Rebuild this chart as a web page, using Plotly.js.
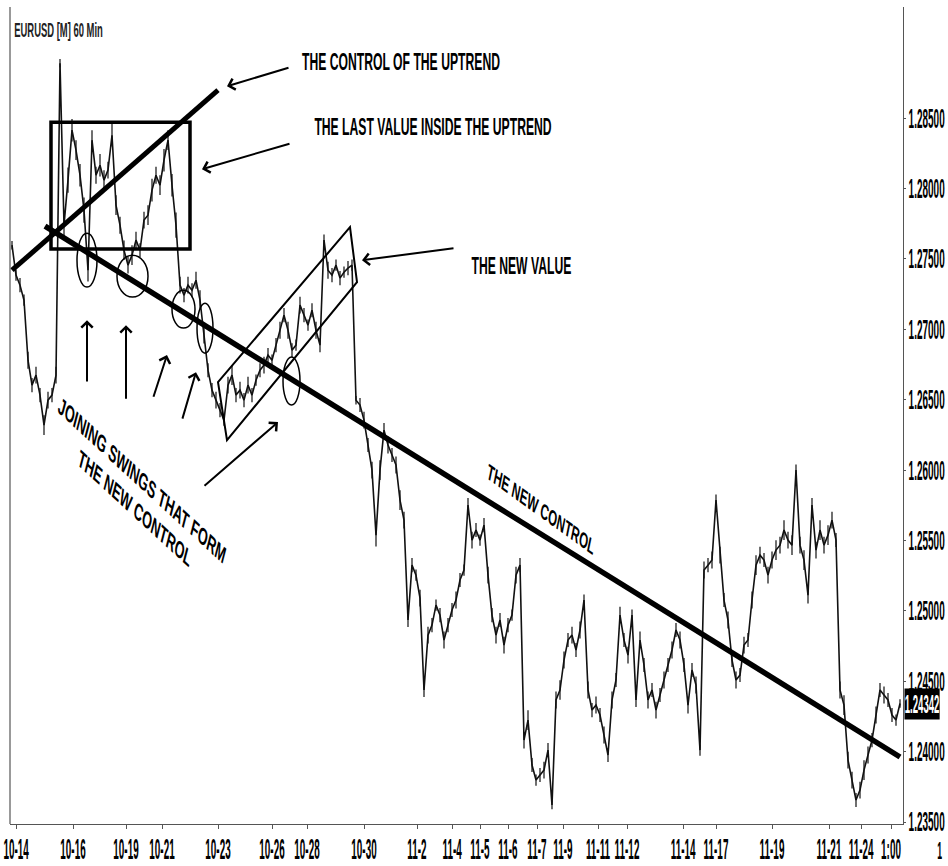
<!DOCTYPE html>
<html>
<head>
<meta charset="utf-8">
<script src="https://cdn.plot.ly/plotly-3.0.1.min.js"></script>
<style>
  html, body { margin: 0; padding: 0; background: #ffffff; }
  #chart { width: 948px; height: 866px; }
</style>
</head>
<body>
<div id="chart"></div>
<script>
const prices = [
  1.27598, 1.27385, 1.27314, 1.27207, 1.26781, 1.26604, 1.26675, 1.26533, 1.26320, 1.26497,
  1.26533, 1.26675, 1.28891, 1.27740, 1.28060, 1.28415, 1.28273, 1.28095, 1.27847, 1.27420,
  1.28344, 1.28095, 1.28166, 1.28060, 1.28131, 1.28379, 1.27882, 1.27740, 1.27562, 1.27456,
  1.27527, 1.27634, 1.27562, 1.27776, 1.27811, 1.27989, 1.28095, 1.28024, 1.28202, 1.28344,
  1.28024, 1.27740, 1.27314, 1.27243, 1.27314, 1.27278, 1.27349, 1.27207, 1.26959, 1.26710,
  1.26568, 1.26497, 1.26426, 1.26355, 1.26604, 1.26675, 1.26533, 1.26568, 1.26497, 1.26604,
  1.26533, 1.26639, 1.26710, 1.26746, 1.26817, 1.26781, 1.26888, 1.26994, 1.27101, 1.26994,
  1.26852, 1.26888, 1.27172, 1.27101, 1.27030, 1.27136, 1.26994, 1.26888, 1.27634, 1.27420,
  1.27385, 1.27456, 1.27364, 1.27406, 1.27435, 1.27456, 1.26497, 1.26462, 1.26355, 1.26178,
  1.26000, 1.25538, 1.26000, 1.26284, 1.26178, 1.26107, 1.26036, 1.25787, 1.25645, 1.24935,
  1.25325, 1.25254, 1.25091, 1.24438, 1.24828, 1.24899, 1.25041, 1.24970, 1.24793, 1.24899,
  1.25006, 1.25077, 1.25219, 1.25290, 1.25752, 1.25503, 1.25574, 1.25503, 1.25609, 1.25254,
  1.24970, 1.24828, 1.24935, 1.24757, 1.24899, 1.24970, 1.25254, 1.25325, 1.24082, 1.24224,
  1.23905, 1.23798, 1.23834, 1.23869, 1.24011, 1.23621, 1.24367, 1.24438, 1.24651, 1.24793,
  1.24828, 1.24722, 1.24864, 1.25077, 1.24438, 1.24295, 1.24331, 1.24260, 1.24118, 1.23976,
  1.24367, 1.24509, 1.24970, 1.24793, 1.24686, 1.24970, 1.24367, 1.24793, 1.24615, 1.24367,
  1.24438, 1.24295, 1.24402, 1.24509, 1.24615, 1.24722, 1.24864, 1.24793, 1.24615, 1.24331,
  1.24580, 1.24473, 1.24011, 1.25290, 1.25325, 1.25361, 1.25787, 1.25396, 1.25077, 1.24935,
  1.24651, 1.24509, 1.24544, 1.24757, 1.24793, 1.25077, 1.25325, 1.25396, 1.25361, 1.25254,
  1.25361, 1.25432, 1.25467, 1.25574, 1.25503, 1.25467, 1.26000, 1.25467, 1.25361, 1.25112,
  1.25752, 1.25432, 1.25574, 1.25467, 1.25538, 1.25645, 1.25503, 1.24438, 1.24331, 1.23940,
  1.23798, 1.23656, 1.23727, 1.23869, 1.23976, 1.24082, 1.24260, 1.24438, 1.24402, 1.24367,
  1.24260, 1.24224, 1.24342
];

const halfRangePips = [
  3, 4, 5, 4, 6, 5, 6, 5, 7, 6,
  5, 6, 3, 8, 9, 8, 7, 8, 9, 8,
  7, 6, 8, 7, 6, 8, 7, 6, 7, 6,
  7, 6, 5, 6, 7, 8, 6, 7, 8, 7,
  8, 9, 6, 5, 6, 5, 6, 7, 6, 5,
  5, 6, 5, 4, 6, 7, 5, 6, 5, 6,
  5, 4, 5, 6, 5, 4, 5, 6, 5, 6,
  5, 4, 6, 5, 4, 5, 6, 5, 4, 6,
  5, 4, 5, 4, 5, 4, 3, 5, 6, 5,
  6, 8, 7, 5, 6, 5, 6, 7, 6, 5,
  5, 4, 6, 5, 6, 5, 4, 5, 6, 5,
  5, 6, 5, 4, 5, 6, 5, 4, 5, 6,
  5, 6, 5, 6, 5, 4, 6, 5, 6, 7,
  5, 4, 5, 6, 5, 3, 6, 7, 6, 5,
  6, 5, 6, 4, 6, 5, 6, 5, 6, 5,
  6, 5, 6, 5, 6, 4, 5, 6, 5, 6,
  5, 6, 5, 6, 5, 6, 5, 6, 5, 6,
  5, 6, 4, 6, 5, 6, 4, 6, 5, 6,
  5, 6, 5, 6, 5, 6, 7, 6, 5, 6,
  6, 7, 6, 7, 6, 7, 4, 6, 7, 6,
  5, 6, 7, 6, 7, 6, 5, 6, 7, 6,
  6, 5, 6, 7, 6, 5, 6, 5, 6, 5,
  5, 4, 3
];

// x-axis date ticks (positions in sample index)
const tickPositions = [1, 15.25, 28.5, 37.5, 51.5, 65, 73.75, 88, 101.25, 110, 117, 124,
  131.25, 137.75, 146.5, 153.75, 167.75, 176, 190, 204.25, 212.25, 219.75];
const tickLabels = ["10-14", "10-16", "10-19", "10-21", "10-23", "10-26", "10-28", "10-30",
  "11-2", "11-4", "11-5", "11-6", "11-7", "11-9", "11-11", "11-12", "11-14", "11-17",
  "11-19", "11-21", "11-24", "1:00"];

// price axis ticks
const priceTicks = [1.235, 1.240, 1.245, 1.250, 1.255, 1.260, 1.265, 1.270, 1.275, 1.280, 1.285];
const lastPrice = 1.24342;

const FONT = "Liberation Sans, Arial, sans-serif";

const trace = {
  type: "scatter",
  mode: "lines",
  y: prices,
  line: { color: "#111", width: 1.6 },
  error_y: { type: "data", symmetric: true, array: halfRangePips.map(p => p * 0.0001),
    width: 0, thickness: 1.3, color: "#222" },
  hoverinfo: "skip",
  showlegend: false
};

const shapes = [
  // uptrend control line
  { type: "line", xref: "x", yref: "y", x0: 0, y0: 1.27420, x1: 51.5, y1: 1.28699,
    line: { color: "#000", width: 5 } },
  // box around last value inside uptrend
  { type: "rect", xref: "x", yref: "y", x0: 9.75, y0: 1.27570, x1: 44.5, y1: 1.28472,
    line: { color: "#000", width: 3.5 } },
  // new control line
  { type: "line", xref: "x", yref: "y", x0: 8.25, y0: 1.27733, x1: 222, y1: 1.23962,
    line: { color: "#000", width: 5.5 } },
  // new value channel
  { type: "path", xref: "x", yref: "y",
    path: "M 51.5,1.26625 L 84.5,1.27726 L 86.25,1.27335 L 53.75,1.26213 Z",
    line: { color: "#000", width: 2 } },
  // swing circles
  { type: "circle", xref: "x", yref: "y", x0: 16.25, x1: 21.25, y0: 1.27300, y1: 1.27683,
    line: { color: "#000", width: 1.5 } },
  { type: "circle", xref: "x", yref: "y", x0: 26.25, x1: 34, y0: 1.27229, y1: 1.27527,
    line: { color: "#000", width: 1.5 } },
  { type: "circle", xref: "x", yref: "y", x0: 40, x1: 45.75, y0: 1.27009, y1: 1.27278,
    line: { color: "#000", width: 1.5 } },
  { type: "circle", xref: "x", yref: "y", x0: 46.25, x1: 50.25, y0: 1.26831, y1: 1.27186,
    line: { color: "#000", width: 1.5 } },
  { type: "circle", xref: "x", yref: "y", x0: 67.75, x1: 72, y0: 1.26462, y1: 1.26803,
    line: { color: "#000", width: 1.5 } },
  // left border of the plot
  { type: "line", xref: "paper", yref: "paper", x0: 0, x1: 0, y0: 0, y1: 1,
    line: { color: "#555", width: 1.2 } }
];

function arrow(x, y, ax, ay) {
  return { x: x, y: y, ax: ax, ay: ay, xref: "x", yref: "y", axref: "x", ayref: "y",
    showarrow: true, arrowhead: 4, arrowsize: 1.1, arrowwidth: 2, arrowcolor: "#000", text: "" };
}

const annotations = [
  { text: "EURUSD [M] 60 Min", xref: "paper", yref: "paper", x: 0.003, y: 0.972,
    xanchor: "left", yanchor: "middle", showarrow: false, name: "sq-left",
    font: { family: FONT, size: 21, color: "#222", weight: "bold" } },
  { text: "THE CONTROL OF THE UPTREND", xref: "x", yref: "y", x: 97.25, y: 1.28898,
    showarrow: false, name: "sq",
    font: { family: FONT, size: 23, color: "#000", weight: "bold" } },
  { text: "THE LAST VALUE INSIDE THE UPTREND", xref: "x", yref: "y", x: 105.25, y: 1.28436,
    showarrow: false, name: "sq",
    font: { family: FONT, size: 23, color: "#000", weight: "bold" } },
  { text: "THE NEW VALUE", xref: "x", yref: "y", x: 127.25, y: 1.27449,
    showarrow: false, name: "sq",
    font: { family: FONT, size: 23, color: "#000", weight: "bold" } },
  { text: "JOINING SWINGS THAT FORM<br>THE NEW CONTROL", xref: "x", yref: "y", x: 31.5, y: 1.25829,
    showarrow: false, textangle: 26, name: "sq",
    font: { family: FONT, size: 24, color: "#000", weight: "bold" } },
  { text: "THE NEW CONTROL", xref: "x", yref: "y", x: 132.25, y: 1.25723,
    showarrow: false, textangle: 21, name: "sq",
    font: { family: FONT, size: 22, color: "#000", weight: "bold" } },
  arrow(53.75, 1.28727, 69.5, 1.28862),
  arrow(47.5, 1.28138, 69.75, 1.28322),
  arrow(87.5, 1.27491, 110.75, 1.27577),
  arrow(18.75, 1.27065, 18.75, 1.26618),
  arrow(28.5, 1.27030, 28.5, 1.26497),
  arrow(38.75, 1.26817, 35.25, 1.26511),
  arrow(46, 1.26696, 42.5, 1.26355),
  arrow(66.5, 1.26341, 47.75, 1.25879),
  // last price marker on the price axis
  { text: lastPrice.toFixed(5), xref: "paper", yref: "y", x: 1.0, y: lastPrice,
    xanchor: "left", yanchor: "middle", showarrow: false, bgcolor: "#000",
    borderpad: 0, xshift: 1, name: "sq-tick",
    font: { family: FONT, size: 26, color: "#fff", weight: "bold" } },
  // tick label at the right end of the time axis
  { text: "1", xref: "paper", yref: "paper", x: 1.0414, y: -0.033,
    xanchor: "center", yanchor: "middle", showarrow: false, name: "sq-x",
    font: { family: FONT, size: 24, color: "#000", weight: "bold" } }
];

const layout = {
  width: 948, height: 866,
  margin: { l: 10, r: 45, t: 7, b: 42 },
  paper_bgcolor: "#fff", plot_bgcolor: "#fff",
  showlegend: false,
  xaxis: {
    range: [-0.5, 222.75],
    tickmode: "array", tickvals: tickPositions, ticktext: tickLabels,
    tickangle: 0, automargin: false, ticklabeloverflow: "allow",
    showgrid: false, zeroline: false,
    showline: true, linecolor: "#555", linewidth: 1.2,
    ticks: "outside", ticklen: 4, tickcolor: "#555",
    ticklabelstandoff: 0,
    tickfont: { family: FONT, size: 30, color: "#000", weight: "bold" },
    fixedrange: true
  },
  yaxis: {
    side: "right",
    range: [1.23486, 1.2929],
    tickmode: "array", tickvals: priceTicks,
    ticktext: priceTicks.map(v => v.toFixed(5)),
    automargin: false, ticklabeloverflow: "allow",
    showgrid: false, zeroline: false,
    showline: true, linecolor: "#555", linewidth: 1.2,
    ticks: "outside", ticklen: 2, tickcolor: "#555",
    tickfont: { family: FONT, size: 27, color: "#000", weight: "bold" },
    fixedrange: true
  },
  shapes: shapes,
  annotations: annotations
};

// horizontal squeeze of text (the reference uses a very condensed face)
function squeezeX(el, s, anchor, dx, dy) {
  const r = el.getBoundingClientRect();
  if (!r.width) return;
  const parent = el.parentNode;
  const inv = parent.getScreenCTM().inverse();
  const sx = anchor === "left" ? r.left : (r.left + r.right) / 2;
  const pt = new DOMPoint(sx, r.top).matrixTransform(inv);
  const cx = pt.x;
  const prev = el.getAttribute("transform") || "";
  el.setAttribute("transform",
    `translate(${dx || 0},${dy || 0}) translate(${cx},0) scale(${s},1) translate(${-cx},0) ` + prev);
}

Plotly.newPlot("chart", [trace], layout, { displayModeBar: false, staticPlot: true }).then(gd => {
  gd.querySelectorAll(".xtick text").forEach(t => squeezeX(t, 0.33, "center", 0, -6));
  gd.querySelectorAll(".ytick text").forEach(t => squeezeX(t, 0.37, "left", -3, 0));
  const groups = gd.querySelectorAll(".annotation");
  groups.forEach((g, i) => {
    const a = annotations[i];
    if (!a || !a.name) return;
    const tg = g.querySelector(".annotation-text-g");
    if (!tg) return;
    if (a.name === "sq") squeezeX(tg, 0.53, "center", 0, 0);
    else if (a.name === "sq-left") squeezeX(tg, 0.45, "left", 0, 0);
    else if (a.name === "sq-tick") squeezeX(tg, 0.37, "left", 0, 0);
    else if (a.name === "sq-x") squeezeX(tg, 0.36, "center", 0, 0);
  });
});
</script>
</body>
</html>
